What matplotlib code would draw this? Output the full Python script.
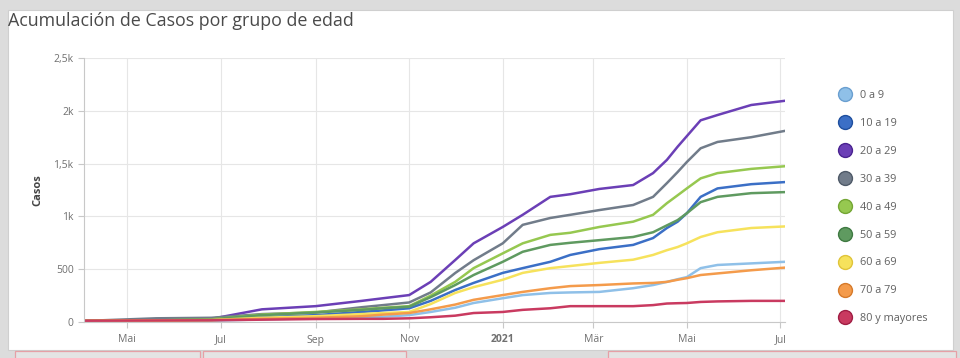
import matplotlib
matplotlib.use("Agg")
import matplotlib.pyplot as plt
from matplotlib.lines import Line2D
from matplotlib.patches import Rectangle
import pandas as pd

plt.rcParams["font.family"] = ["Open Sans", "DejaVu Sans"]

dates = pd.to_datetime([
    "2020-04-03", "2020-05-20", "2020-06-25", "2020-07-28", "2020-09-01", "2020-10-01",
    "2020-10-15", "2020-11-01", "2020-11-15", "2020-12-01", "2020-12-13", "2021-01-01",
    "2021-01-14", "2021-02-01", "2021-02-14", "2021-03-05", "2021-03-27", "2021-04-09",
    "2021-04-18", "2021-04-25", "2021-05-01", "2021-05-10", "2021-05-21", "2021-06-12",
    "2021-07-04"])

g0_9 = [5, 8, 12, 25, 35, 45, 50, 65, 95, 135, 180, 225, 255, 275, 280, 285, 320, 350,
        380, 405, 425, 510, 540, 555, 570]
g10_19 = [8, 12, 20, 45, 65, 95, 110, 130, 200, 303, 370, 465, 510, 570, 635, 690, 730, 795,
          890, 950, 1030, 1185, 1265, 1305, 1325]
g20_29 = [12, 15, 30, 120, 150, 200, 225, 255, 380, 587, 745, 900, 1015, 1185, 1210, 1260, 1297, 1410,
          1535, 1660, 1760, 1910, 1960, 2055, 2095]
g30_39 = [10, 35, 40, 75, 90, 140, 160, 185, 280, 464, 585, 745, 920, 985, 1015, 1060, 1108, 1185,
          1315, 1420, 1515, 1645, 1705, 1750, 1810]
g40_49 = [10, 15, 25, 70, 95, 120, 135, 150, 250, 380, 510, 650, 745, 825, 845, 900, 950, 1015,
          1125, 1200, 1265, 1360, 1410, 1450, 1475]
g50_59 = [10, 15, 25, 65, 90, 115, 130, 145, 235, 350, 445, 570, 665, 730, 750, 775, 805, 850,
          915, 965, 1030, 1135, 1185, 1220, 1230]
g60_69 = [8, 12, 18, 40, 55, 75, 85, 95, 170, 275, 330, 400, 465, 510, 530, 560, 590, 635,
          680, 710, 745, 805, 850, 890, 905]
g70_79 = [12, 15, 18, 30, 40, 55, 70, 85, 120, 165, 210, 255, 285, 320, 340, 350, 365, 370,
          380, 400, 415, 445, 460, 490, 515]
g80 = [12, 14, 16, 22, 28, 30, 30, 35, 45, 60, 85, 95, 115, 130, 150, 150, 150, 160,
       175, 178, 180, 190, 195, 200, 200]

labels = ["0 a 9", "10 a 19", "20 a 29", "30 a 39", "40 a 49", "50 a 59", "60 a 69", "70 a 79", "80 y mayores"]
series = [g0_9, g10_19, g20_29, g30_39, g40_49, g50_59, g60_69, g70_79, g80]
colors = ["#8fc0e8", "#3b6fc6", "#6b3fb6", "#717c8a", "#96c850", "#5f9a60", "#f6e25c", "#f49b4b", "#c93a60"]
edges = ["#6a9fd0", "#1f4f9e", "#4a2390", "#4f5a68", "#74a634", "#3f7a42", "#e0c43a", "#d67a2a", "#a01e44"]

xticks = pd.to_datetime(["2020-05-01", "2020-07-01", "2020-09-01", "2020-11-01",
                         "2021-01-01", "2021-03-01", "2021-05-01", "2021-07-01"])
xticklabels = ["Mai", "Jul", "Sep", "Nov", "2021", "Mär", "Mai", "Jul"]
yticks = [0, 500, 1000, 1500, 2000, 2500]
yticklabels = ["0", "500", "1k", "1,5k", "2k", "2,5k"]

fig = plt.figure(figsize=(9.6, 3.58), dpi=100, facecolor="#dcdcdc")
# white card + neighbouring panels peeking at the bottom
fig.patches.append(Rectangle((8 / 960, 1 - 350 / 358), 945 / 960, 340 / 358, transform=fig.transFigure,
                             facecolor="white", edgecolor="#cfcfcf", lw=0.8, zorder=-2))
for x0, x1 in [(15, 200), (203, 406), (608, 956)]:
    fig.patches.append(Rectangle((x0 / 960, -0.01), (x1 - x0) / 960, 7 / 358 + 0.01, transform=fig.transFigure,
                                 facecolor="#e4e4e4", edgecolor="#e6a0a6", lw=0.9, zorder=-2))

fig.text(8 / 960, 1 - 21 / 358, "Acumulación de Casos por grupo de edad", fontsize=12.9,
         color="#4a4a4a", va="center", ha="left")

ax = fig.add_axes([84 / 960, 36 / 358, 701 / 960, 264 / 358])
ax.set_facecolor("white")
for vals, c in zip(series, colors):
    ax.plot(dates, vals, color=c, lw=1.8, solid_joinstyle="round", solid_capstyle="round")

ax.set_xlim(pd.Timestamp("2020-04-03"), pd.Timestamp("2021-07-04"))
ax.set_ylim(0, 2500)
ax.set_yticks(yticks)
ax.set_yticklabels(yticklabels)
ax.set_xticks(xticks)
ax.set_xticklabels(xticklabels)
for t in ax.get_xticklabels():
    if t.get_text() == "2021":
        t.set_fontweight("bold")
        t.set_color("#444")
ax.grid(True, color="#e6e6e6", lw=0.8)
ax.set_axisbelow(True)
for s in ["top", "right"]:
    ax.spines[s].set_visible(False)
for s in ["left", "bottom"]:
    ax.spines[s].set_color("#c8c8c8")
ax.tick_params(axis="both", colors="#c8c8c8", labelcolor="#707070", labelsize=7.5, length=4, width=0.8)
ax.tick_params(axis="x", pad=5)
ax.set_ylabel("Casos", fontsize=8, fontweight="bold", color="#444", labelpad=7)

handles = [Line2D([], [], marker="o", ls="", markersize=10, markerfacecolor=c, markeredgecolor=e,
                  markeredgewidth=1.0) for c, e in zip(colors, edges)]
fig.legend(handles, labels, loc="upper left", bbox_to_anchor=(838 / 960, 1 - 90 / 358), frameon=False,
           fontsize=7.8, labelcolor="#606060", labelspacing=1.56, handletextpad=0.8, handlelength=1.2,
           borderaxespad=0, borderpad=0)

fig.savefig("out.png", dpi=100, facecolor=fig.get_facecolor())
